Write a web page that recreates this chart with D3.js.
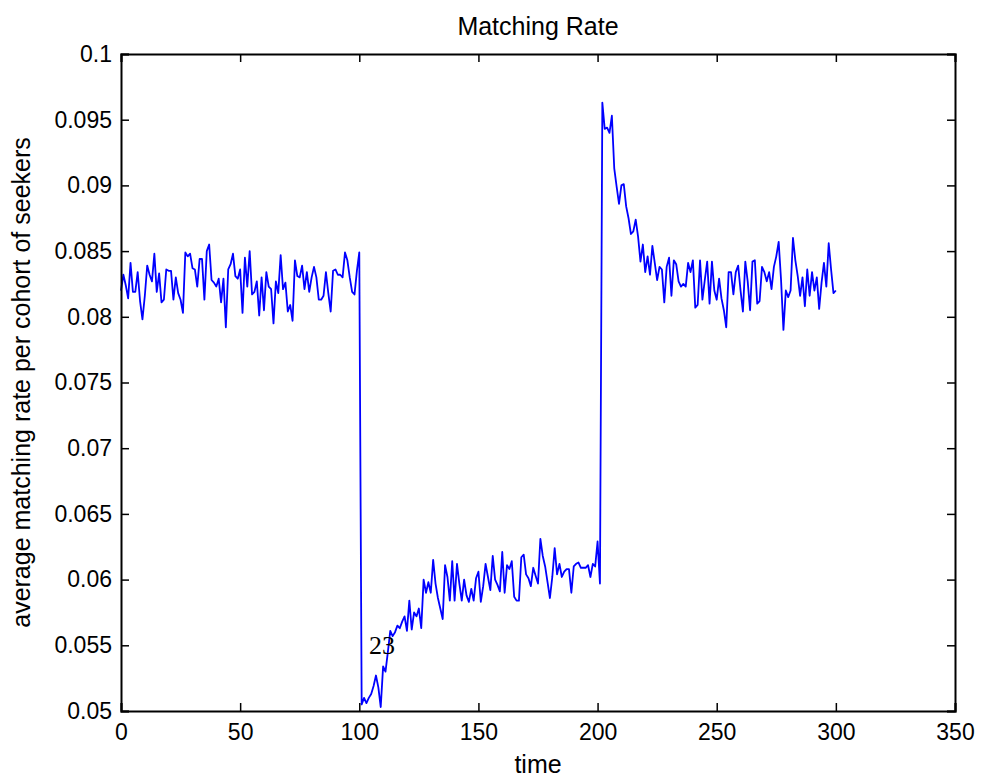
<!DOCTYPE html>
<html>
<head>
<meta charset="utf-8">
<script src="https://cdn.jsdelivr.net/npm/d3@7"></script>
<style>
  html, body { margin: 0; padding: 0; background: #fff; }
  svg { display: block; }
  text { font-family: "Liberation Sans", Arial, sans-serif; fill: #000; }
</style>
</head>
<body>
<svg id="chart" width="987" height="779"></svg>
<script>
// Average matching rate per cohort of seekers, one value per time step t = 0..300
const phaseBefore = [
  0.0820, 0.0832, 0.0824, 0.0814, 0.0841, 0.0819, 0.0819, 0.0834, 0.0812, 0.0798,
  0.0816, 0.0839, 0.0832, 0.0827, 0.0848, 0.0819, 0.0833, 0.0811, 0.0813, 0.0836,
  0.0835, 0.0835, 0.0813, 0.0830, 0.0818, 0.0813, 0.0803, 0.0849, 0.0846, 0.0848,
  0.0837, 0.0836, 0.0823, 0.0844, 0.0844, 0.0813, 0.0850, 0.0855, 0.0828, 0.0826,
  0.0823, 0.0829, 0.0811, 0.0829, 0.0792, 0.0836, 0.0840, 0.0848, 0.0831, 0.0829,
  0.0836, 0.0803, 0.0845, 0.0823, 0.0850, 0.0817, 0.0819, 0.0827, 0.0801, 0.0830,
  0.0805, 0.0834, 0.0823, 0.0821, 0.0795, 0.0827, 0.0818, 0.0847, 0.0821, 0.0826,
  0.0804, 0.0809, 0.0797, 0.0843, 0.0831, 0.0830, 0.0839, 0.0821, 0.0834, 0.0819,
  0.0830, 0.0838, 0.0830, 0.0813, 0.0813, 0.0816, 0.0834, 0.0818, 0.0804, 0.0835,
  0.0836, 0.0832, 0.0832, 0.0830, 0.0849, 0.0843, 0.0830, 0.0819, 0.0817, 0.0835,
  0.0849
];
const phaseDrop = [
  0.0505, 0.0510, 0.0506, 0.0510, 0.0513, 0.0519, 0.0527, 0.0518, 0.0503, 0.0534,
  0.0530, 0.0545, 0.0561, 0.0557, 0.0560, 0.0565, 0.0563, 0.0568, 0.0572, 0.0561,
  0.0584, 0.0562, 0.0575, 0.0572, 0.0578, 0.0563, 0.0600, 0.0590, 0.0598, 0.0590,
  0.0615, 0.0597, 0.0586, 0.0578, 0.0570, 0.0611, 0.0602, 0.0584, 0.0614, 0.0584,
  0.0612, 0.0597, 0.0584, 0.0600, 0.0588, 0.0583, 0.0593, 0.0584, 0.0601, 0.0606,
  0.0583, 0.0595, 0.0612, 0.0602, 0.0592, 0.0618, 0.0600, 0.0596, 0.0591, 0.0621,
  0.0590, 0.0611, 0.0608, 0.0614, 0.0587, 0.0584, 0.0584, 0.0617, 0.0619, 0.0604,
  0.0601, 0.0595, 0.0609, 0.0603, 0.0597, 0.0631, 0.0618, 0.0610, 0.0598, 0.0586,
  0.0602, 0.0624, 0.0604, 0.0612, 0.0602, 0.0606, 0.0608, 0.0608, 0.0590, 0.0610,
  0.0612, 0.0613, 0.0609, 0.0609, 0.0609, 0.0611, 0.0602, 0.0612, 0.0610, 0.0629,
  0.0597
];
const phaseRecovery = [
  0.0963, 0.0943, 0.0944, 0.0940, 0.0953, 0.0913, 0.0899, 0.0886, 0.0900, 0.0901,
  0.0884, 0.0875, 0.0863, 0.0865, 0.0874, 0.0861, 0.0842, 0.0855, 0.0834, 0.0846,
  0.0832, 0.0854, 0.0841, 0.0828, 0.0838, 0.0836, 0.0811, 0.0838, 0.0845, 0.0816,
  0.0843, 0.0840, 0.0827, 0.0823, 0.0825, 0.0823, 0.0841, 0.0834, 0.0843, 0.0807,
  0.0809, 0.0843, 0.0813, 0.0828, 0.0842, 0.0810, 0.0842, 0.0820, 0.0813, 0.0829,
  0.0814, 0.0805, 0.0792, 0.0834, 0.0834, 0.0817, 0.0834, 0.0839, 0.0820, 0.0804,
  0.0842, 0.0827, 0.0805, 0.0842, 0.0843, 0.0810, 0.0812, 0.0838, 0.0834, 0.0827,
  0.0834, 0.0821, 0.0838, 0.0846, 0.0857, 0.0828, 0.0790, 0.0820, 0.0815, 0.0820,
  0.0860, 0.0843, 0.0831, 0.0816, 0.0830, 0.0808, 0.0836, 0.0816, 0.0834, 0.0820,
  0.0830, 0.0806, 0.0826, 0.0841, 0.0823, 0.0856, 0.0836, 0.0818, 0.0820
];
const matchingRate = phaseBefore.concat(phaseDrop, phaseRecovery);

const xTicks = [0, 50, 100, 150, 200, 250, 300, 350];
const yTicks = [0.05, 0.055, 0.06, 0.065, 0.07, 0.075, 0.08, 0.085, 0.09, 0.095, 0.1];
const yTickLabels = ["0.05", "0.055", "0.06", "0.065", "0.07", "0.075", "0.08", "0.085", "0.09", "0.095", "0.1"];

const titleText = "Matching Rate";
const xLabel = "time";
const yLabel = "average matching rate per cohort of seekers";
const note = { t: 109.5, v: 0.0543, text: "23" };

const W = 987, H = 779;
const m = { left: 121, top: 54, right: 32, bottom: 68 };
const iw = W - m.left - m.right, ih = H - m.top - m.bottom;
const tickFont = "23px";
const labelFont = "25px";

const svg = d3.select("#chart");
const g = svg.append("g").attr("transform", `translate(${m.left},${m.top})`);

const x = d3.scaleLinear().domain([0, 350]).range([0, iw]);
const y = d3.scaleLinear().domain([0.05, 0.1]).range([ih, 0]);

const tickLen = 8;

// data line
const data = matchingRate.map((v, i) => ({ t: i, v }));
g.append("path")
  .datum(data)
  .attr("fill", "none")
  .attr("stroke", "#0000ff")
  .attr("stroke-width", 1.8)
  .attr("stroke-linejoin", "round")
  .attr("d", d3.line().x(d => x(d.t)).y(d => y(d.v)));

// axes: inward ticks on every side
const fmtY = v => yTickLabels[yTicks.indexOf(v)];
const bottomAx = g.append("g").attr("transform", `translate(0,${ih})`)
  .call(d3.axisBottom(x).tickValues(xTicks).tickSize(-tickLen).tickPadding(13).tickFormat(d3.format("d")));
const topAx = g.append("g")
  .call(d3.axisTop(x).tickValues(xTicks).tickSize(-tickLen).tickFormat(""));
const leftAx = g.append("g")
  .call(d3.axisLeft(y).tickValues(yTicks).tickSize(-tickLen).tickPadding(9).tickFormat(fmtY));
const rightAx = g.append("g").attr("transform", `translate(${iw},0)`)
  .call(d3.axisRight(y).tickValues(yTicks).tickSize(-tickLen).tickFormat(""));

[bottomAx, topAx, leftAx, rightAx].forEach(a => {
  a.select(".domain").attr("stroke", "#000").attr("stroke-width", 2);
  a.selectAll(".tick line").attr("stroke", "#000").attr("stroke-width", 1.5);
  a.selectAll(".tick text").style("font-family", "'Liberation Sans', Arial, sans-serif")
    .style("font-size", tickFont).attr("fill", "#000");
});
bottomAx.selectAll(".tick text").attr("dy", "0.71em");

// title and axis labels
svg.append("text").attr("x", m.left + iw / 2).attr("y", 35)
  .attr("text-anchor", "middle").style("font-size", labelFont).text(titleText);
svg.append("text").attr("x", m.left + iw / 2).attr("y", 773)
  .attr("text-anchor", "middle").style("font-size", labelFont).text(xLabel);
svg.append("text")
  .attr("transform", `translate(30,${m.top + ih / 2}) rotate(-90)`)
  .attr("text-anchor", "middle").style("font-size", labelFont).text(yLabel);

// annotation near the start of the low phase
g.append("text").attr("x", x(note.t)).attr("y", y(note.v))
  .attr("text-anchor", "middle")
  .style("font-family", "'Liberation Serif', 'DejaVu Serif', serif")
  .style("font-size", "26px").text(note.text);
</script>
</body>
</html>
